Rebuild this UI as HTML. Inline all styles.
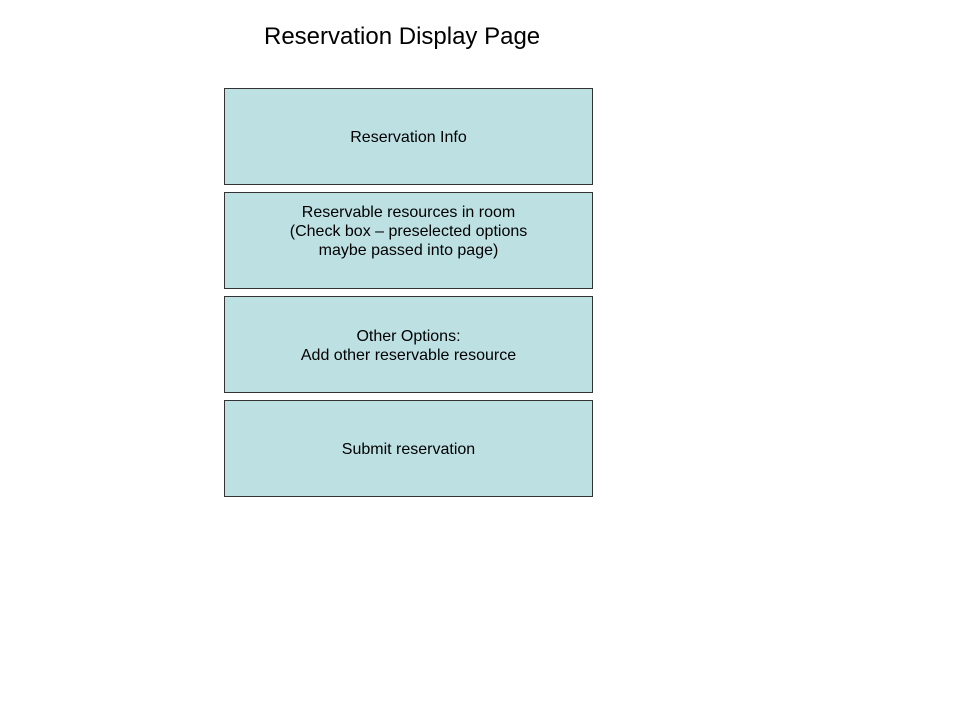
<!DOCTYPE html>
<html><head><style>
body{margin:0;width:960px;height:720px;background:#fff;position:relative;font-family:"Liberation Sans",sans-serif;}
.t{position:absolute;left:264px;top:23px;font-size:24px;color:#000;white-space:nowrap;}
.b{position:absolute;left:224px;width:367px;height:93px;padding-top:2px;background:#bde0e3;border:1px solid #333;display:flex;align-items:center;justify-content:center;text-align:center;font-size:16px;line-height:19px;color:#000;box-sizing:content-box;}
</style></head><body>
<div class="t">Reservation Display Page</div>
<div class="b" style="top:88px">Reservation Info</div>
<div class="b" style="top:192px;height:73px;padding-bottom:20px">Reservable resources in room<br>(Check box – preselected options<br>maybe passed into page)</div>
<div class="b" style="top:296px">Other Options:<br>Add other reservable resource</div>
<div class="b" style="top:400px">Submit reservation</div>
</body></html>
